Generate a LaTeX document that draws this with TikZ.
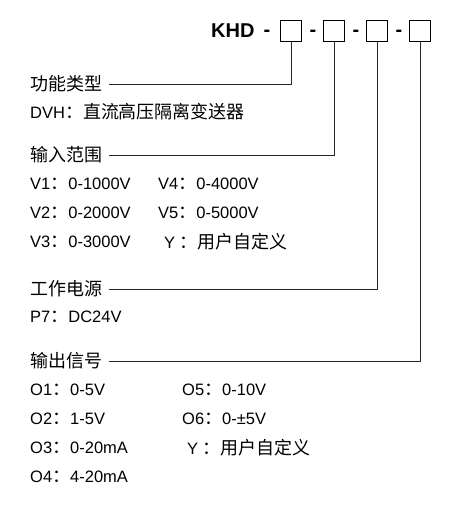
\documentclass[tikz,border=0pt]{standalone}
\usepackage{fontspec}
\setmainfont{Liberation Sans}
\newfontfamily\cjk[Scale=1.09]{Noto Sans CJK SC}
\usetikzlibrary{positioning}

\begin{document}
\begin{tikzpicture}[
  x=1pt, y=-1pt,
  font=\fontsize{16.5}{19}\selectfont,
  lbl/.style={inner sep=0pt, anchor=west},
  head/.style={lbl, font=\fontsize{16.5}{19}\selectfont\cjk},
  code/.style={draw, line width=1.1pt, minimum size=21pt, inner sep=0pt},
  sep/.style={inner sep=0pt, anchor=base, font=\fontsize{20}{24}\selectfont\bfseries},
  wire/.style={line width=0.8pt, black!85}
]
\useasboundingbox (0,0) rectangle (460,508);

% model code
\node[sep, anchor=west] (khd) at (211,31) {KHD};
\node[sep] (d0) at (267,36.5) {-};
\node[code] (b1) at (291,31) {};
\node[code, right=21pt of b1] (b2) {};
\node[code, right=21pt of b2] (b3) {};
\node[code, right=21pt of b3] (b4) {};
\node[sep] (d1) at (313,36.5) {-};
\node[sep] (d2) at (356,36.5) {-};
\node[sep] (d3) at (399,36.5) {-};

% function type
\node[head] (func) at (30,84) {功能类型};
\node[lbl, below=28pt of func.west, anchor=west] (dvh) {DVH{\cjk ：直流高压隔离变送器}};

% input range
\node[head] (range) at (30,155) {输入范围};
\node[lbl, below=29pt of range.west, anchor=west] (v1) {V1{\cjk ：}0-1000V};
\node[lbl, below=29pt of v1.west, anchor=west] (v2) {V2{\cjk ：}0-2000V};
\node[lbl, below=29pt of v2.west, anchor=west] (v3) {V3{\cjk ：}0-3000V};
\node[lbl, right=128pt of v1.west, anchor=west] (v4) {V4{\cjk ：}0-4000V};
\node[lbl, right=128pt of v2.west, anchor=west] (v5) {V5{\cjk ：}0-5000V};
\node[lbl, right=134pt of v3.west, anchor=west] (vy) {Y {\cjk ：用户自定义}};

% power supply
\node[head] (pwr) at (30,289) {工作电源};
\node[lbl, below=28pt of pwr.west, anchor=west] (p7) {P7{\cjk ：}DC24V};

% output signal
\node[head] (out) at (30,361) {输出信号};
\node[lbl, below=29pt of out.west, anchor=west] (o1) {O1{\cjk ：}0-5V};
\node[lbl, below=29pt of o1.west, anchor=west] (o2) {O2{\cjk ：}1-5V};
\node[lbl, below=29pt of o2.west, anchor=west] (o3) {O3{\cjk ：}0-20mA};
\node[lbl, below=29pt of o3.west, anchor=west] (o4) {O4{\cjk ：}4-20mA};
\node[lbl, right=152pt of o1.west, anchor=west] (o5) {O5{\cjk ：}0-10V};
\node[lbl, right=152pt of o2.west, anchor=west] (o6) {O6{\cjk ：}0-±5V};
\node[lbl, right=157pt of o3.west, anchor=west] (oy) {Y {\cjk ：用户自定义}};

% leader lines
\draw[wire] ([xshift=7pt]func.east) -| (b1.south);
\draw[wire] ([xshift=7pt]range.east) -| (b2.south);
\draw[wire] ([xshift=7pt]pwr.east) -| (b3.south);
\draw[wire] ([xshift=7pt]out.east) -| (b4.south);
\end{tikzpicture}
\end{document}
